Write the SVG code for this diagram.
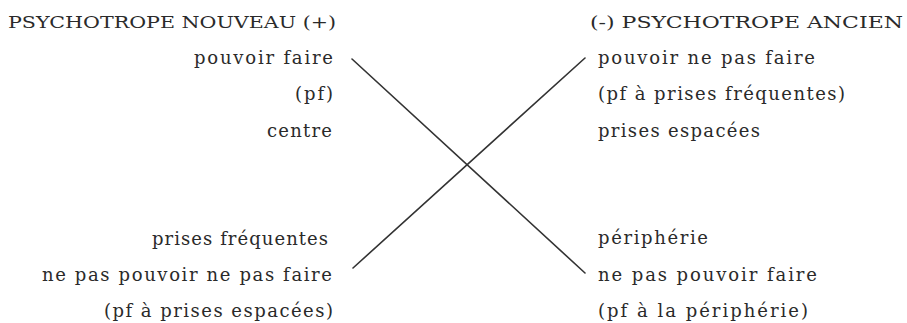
<svg xmlns="http://www.w3.org/2000/svg" width="907" height="323" viewBox="0 0 907 323">
  <style>
    text { font-family: "DejaVu Serif", "Liberation Serif", serif; font-size: 18px; fill: #2a2a2a; }
    .head { font-size: 17px; }
    .conn { stroke: #333; stroke-width: 1.6; fill: none; stroke-linecap: round; }
  </style>
  <rect x="0" y="0" width="907" height="323" fill="#ffffff"/>
  <g id="connectors">
    <line class="conn" x1="352" y1="59" x2="585" y2="273"/>
    <line class="conn" x1="353" y1="268" x2="585" y2="58"/>
  </g>
  <g id="node-top-left">
    <text class="head" x="8" y="28" textLength="328" lengthAdjust="spacingAndGlyphs">PSYCHOTROPE NOUVEAU (+)</text>
    <text x="194" y="64" textLength="139" lengthAdjust="spacing">pouvoir faire</text>
    <text x="295" y="100" textLength="38" lengthAdjust="spacing">(pf)</text>
    <text x="267" y="137" textLength="65" lengthAdjust="spacing">centre</text>
  </g>
  <g id="node-top-right">
    <text class="head" x="590" y="28" textLength="313" lengthAdjust="spacingAndGlyphs">(-) PSYCHOTROPE ANCIEN</text>
    <text x="598" y="64" textLength="217" lengthAdjust="spacing">pouvoir ne pas faire</text>
    <text x="598" y="100" textLength="247" lengthAdjust="spacing">(pf à prises fréquentes)</text>
    <text x="598" y="137" textLength="162" lengthAdjust="spacing">prises espacées</text>
  </g>
  <g id="node-bottom-left">
    <text x="152" y="245" textLength="176" lengthAdjust="spacing">prises fréquentes</text>
    <text x="42" y="281" textLength="290" lengthAdjust="spacing">ne pas pouvoir ne pas faire</text>
    <text x="104" y="317" textLength="229" lengthAdjust="spacing">(pf à prises espacées)</text>
  </g>
  <g id="node-bottom-right">
    <text x="598" y="244" textLength="110" lengthAdjust="spacing">périphérie</text>
    <text x="598" y="281" textLength="219" lengthAdjust="spacing">ne pas pouvoir faire</text>
    <text x="598" y="317" textLength="210" lengthAdjust="spacing">(pf à la périphérie)</text>
  </g>
</svg>
